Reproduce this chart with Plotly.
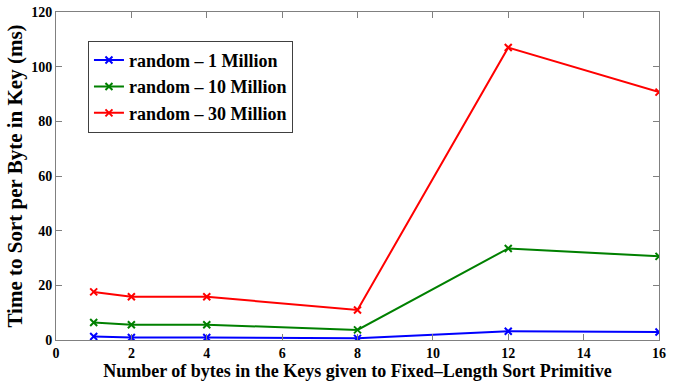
import plotly.graph_objects as go

x_bytes = [1, 2, 4, 8, 12, 16]
rand_1m = [1.3, 0.9, 0.9, 0.6, 3.2, 2.9]
rand_10m = [6.4, 5.6, 5.6, 3.7, 33.5, 30.6]
rand_30m = [17.6, 15.8, 15.8, 11.0, 107.0, 90.7]
names = ["random – 1 Million", "random – 10 Million", "random – 30 Million"]
colors = ["#0000ff", "#008000", "#ff0000"]

fig = go.Figure()
for name, vals, c in zip(names, [rand_1m, rand_10m, rand_30m], colors):
    fig.add_trace(go.Scatter(
        x=x_bytes, y=vals, name=name, mode="lines+markers",
        line=dict(color=c, width=2),
        marker=dict(symbol="x-thin", size=7, line=dict(color=c, width=2), color=c),
    ))

font = "Liberation Serif"
axis_common = dict(
    showgrid=False, zeroline=False, showline=True, linecolor="#808080", linewidth=1,
    mirror="ticks", ticks="inside", ticklen=6, tickcolor="#808080",
    tickfont=dict(family=font, size=14, color="black", weight="bold"),
    automargin=False,
)
fig.update_layout(
    width=687, height=381,
    margin=dict(l=56, r=28, t=12, b=41),
    paper_bgcolor="white", plot_bgcolor="white",
    showlegend=True,
    legend=dict(
        x=0.053, y=0.912, xanchor="left", yanchor="top",
        bordercolor="#404040", borderwidth=1, bgcolor="white",
        font=dict(family=font, size=18, color="black", weight="bold"),
        tracegroupgap=0, itemwidth=30,
    ),
    xaxis=dict(range=[0, 16], dtick=2,
               title=dict(text="Number of bytes in the Keys given to Fixed–Length Sort Primitive",
                          font=dict(family=font, size=18, color="black", weight="bold"), standoff=0),
               **axis_common),
    yaxis=dict(range=[0, 120], dtick=20,
               title=dict(text="Time to Sort per Byte in Key (ms)",
                          font=dict(family=font, size=21, color="black", weight="bold"), standoff=2),
               **axis_common),
)
fig.write_html("out.html")
